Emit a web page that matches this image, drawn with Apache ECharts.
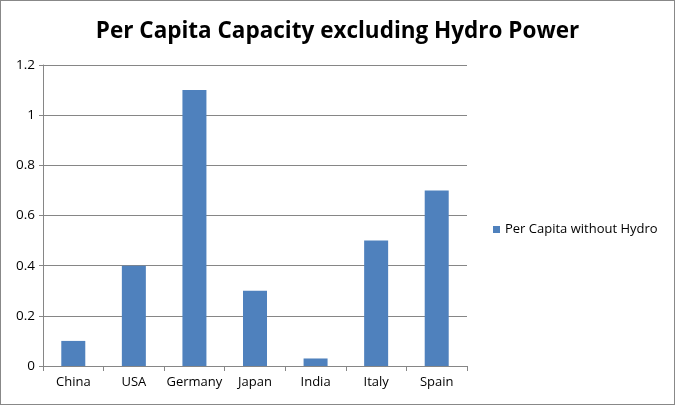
<!DOCTYPE html>
<html>
<head>
<meta charset="utf-8">
<script src="https://cdn.jsdelivr.net/npm/echarts@6/dist/echarts.min.js"></script>
<style>
  html, body { margin: 0; padding: 0; background: #fff; }
  #chart { width: 673px; height: 403px; border: 1px solid #888; }
</style>
</head>
<body>
<div id="chart"></div>
<script>
var categories = ['China', 'USA', 'Germany', 'Japan', 'India', 'Italy', 'Spain'];
var perCapita = [0.1, 0.4, 1.1, 0.3, 0.03, 0.5, 0.7];
var seriesName = 'Per Capita without Hydro';

var myChart = echarts.init(document.getElementById('chart'));
var font = '"Open Sans", "Liberation Sans", sans-serif';
var option = {
  animation: false,
  title: {
    text: 'Per Capita Capacity excluding Hydro Power',
    left: 'center',
    top: 14,
    textStyle: { fontFamily: font, fontSize: 22.5, fontWeight: 'bold', color: '#000' }
  },
  legend: {
    data: [seriesName],
    orient: 'vertical',
    left: 487,
    top: 217,
    icon: 'rect',
    itemWidth: 7,
    itemHeight: 7,
    itemGap: 6,
    textStyle: { fontFamily: font, fontSize: 13, color: '#000' }
  },
  grid: { left: 42, right: 207, top: 64, bottom: 38 },
  xAxis: {
    type: 'category',
    data: categories,
    axisLine: { lineStyle: { color: '#868686' } },
    axisTick: { show: true, length: 5, lineStyle: { color: '#868686' } },
    axisLabel: { interval: 0, fontFamily: font, fontSize: 13, color: '#000', margin: 10 }
  },
  yAxis: {
    type: 'value',
    min: 0,
    max: 1.2,
    interval: 0.2,
    axisLine: { show: true, lineStyle: { color: '#868686' } },
    axisTick: { show: true, length: 4, inside: false, lineStyle: { color: '#868686' } },
    axisLabel: { fontFamily: font, fontSize: 13.5, color: '#000', margin: 8,
      formatter: function (v) { return +v.toFixed(1) + ''; } },
    splitLine: { lineStyle: { color: '#868686' } }
  },
  series: [{
    name: seriesName,
    type: 'bar',
    barWidth: 24,
    itemStyle: { color: '#4F81BD' },
    data: perCapita
  }]
};
myChart.setOption(option);
</script>
</body>
</html>
